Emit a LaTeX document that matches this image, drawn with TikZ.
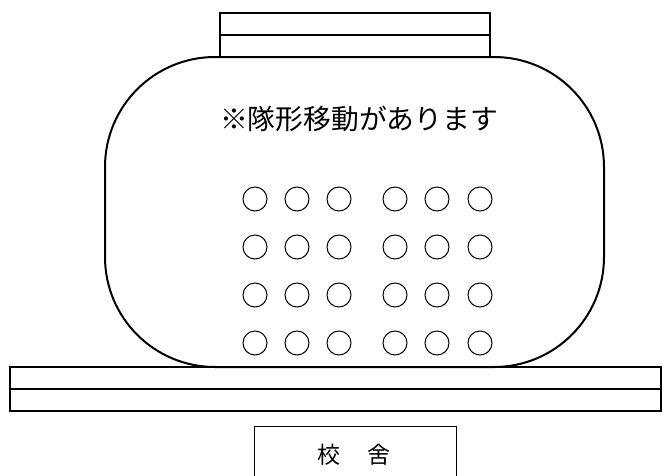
\documentclass[tikz,border=0pt]{standalone}
\usepackage{fontspec}
\newfontfamily\cjk{Noto Sans CJK JP}
\begin{document}
\begin{tikzpicture}[x=1pt,y=-1pt,
  thickline/.style={draw=black,line width=2pt},
  thinline/.style={draw=black,line width=1pt},
  seat/.style={circle,draw=black,line width=1pt,minimum size=24pt,inner sep=0pt}]
\useasboundingbox (0,0) rectangle (667,475);
% top bars
\draw[thickline] (220,13) rectangle (490,57);
\draw[thickline] (220,35) -- (490,35);
% rounded area
\draw[thickline,rounded corners=110pt,fill=white] (105,57) rectangle (604,367);
% bottom bars
\draw[thickline] (10,367) rectangle (661,411);
\draw[thickline] (10,389) -- (661,389);
% text
\node[font=\cjk\fontsize{27.8pt}{30pt}\selectfont,inner sep=0pt] (msg) at (359,119) {※隊形移動があります};
% seats
\foreach \r/\y in {1/199,2/247,3/295,4/343}{
  \foreach \c/\x in {1/255,2/297,3/339,4/395,5/437,6/480}{
    \node[seat] (s\r\c) at (\x,\y) {};
  }
}
% school
\draw[thinline] (254,480) -- (254,426) -- (456,426) -- (456,480);
\node[font=\cjk\fontsize{23pt}{26pt}\selectfont,inner sep=0pt] (school) at (354,455) {校\hspace{1.2em}舍};
\end{tikzpicture}
\end{document}
